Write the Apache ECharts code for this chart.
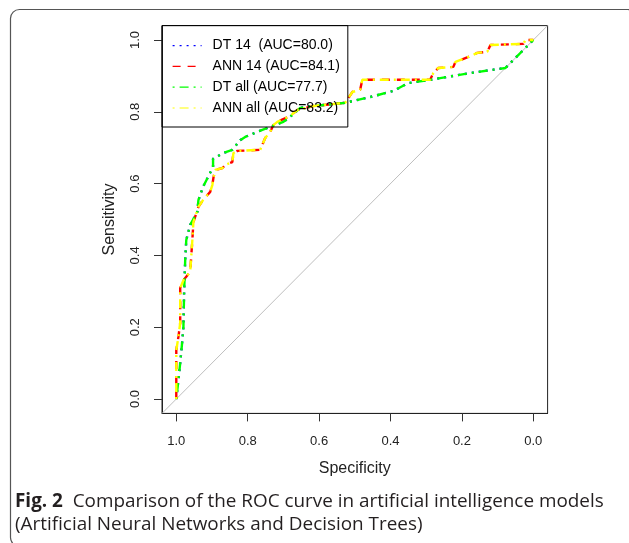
<!DOCTYPE html>
<html>
<head>
<meta charset="utf-8">
<script src="https://cdn.jsdelivr.net/npm/echarts@6/dist/echarts.min.js"></script>
<style>
html,body{margin:0;padding:0;background:#fff;}
#chart{width:629px;height:543px;}
</style>
</head>
<body>
<div id="chart"></div>
<script>
// ---- Data ----
const seriesNames = ['DT 14  (AUC=80.0)', 'ANN 14 (AUC=84.1)', 'DT all (AUC=77.7)', 'ANN all (AUC=83.2)'];
const tickValues = [0, 0.2, 0.4, 0.6, 0.8, 1.0];

const dtSpec = [1.000, 0.994, 0.989, 0.983, 0.980, 0.978, 0.975, 0.972, 0.961, 0.941, 0.938, 0.925, 0.897, 0.897, 0.868, 0.843, 0.821, 0.807, 0.773, 0.737, 0.700, 0.681, 0.653, 0.616, 0.527, 0.457, 0.392, 0.350, 0.289, 0.176, 0.078, 0.000];
const dtSens = [0.000, 0.053, 0.100, 0.164, 0.201, 0.300, 0.387, 0.443, 0.485, 0.521, 0.554, 0.591, 0.646, 0.669, 0.685, 0.694, 0.721, 0.730, 0.744, 0.758, 0.772, 0.786, 0.811, 0.816, 0.825, 0.841, 0.858, 0.880, 0.889, 0.908, 0.922, 1.000];

const dtAllSpec = [1.000, 0.994, 0.989, 0.983, 0.980, 0.978, 0.975, 0.972, 0.961, 0.941, 0.938, 0.925, 0.897, 0.897, 0.868, 0.843, 0.821, 0.807, 0.773, 0.737, 0.700, 0.681, 0.653, 0.616, 0.527, 0.457, 0.392, 0.350, 0.289, 0.176, 0.078, 0.000];
const dtAllSens = [0.000, 0.053, 0.100, 0.164, 0.201, 0.300, 0.387, 0.443, 0.485, 0.521, 0.554, 0.591, 0.646, 0.669, 0.685, 0.694, 0.721, 0.730, 0.744, 0.758, 0.772, 0.786, 0.811, 0.816, 0.825, 0.841, 0.858, 0.880, 0.889, 0.908, 0.922, 1.000];

const annSpec = [1.000, 1.000, 0.994, 0.989, 0.989, 0.980, 0.961, 0.955, 0.952, 0.938, 0.925, 0.905, 0.899, 0.896, 0.891, 0.871, 0.863, 0.843, 0.840, 0.829, 0.765, 0.759, 0.751, 0.737, 0.728, 0.717, 0.681, 0.661, 0.616, 0.527, 0.518, 0.507, 0.485, 0.479, 0.289, 0.280, 0.266, 0.224, 0.218, 0.176, 0.157, 0.129, 0.120, 0.028, 0.022, 0.000];
const annSens = [0.000, 0.136, 0.173, 0.212, 0.309, 0.331, 0.354, 0.443, 0.493, 0.535, 0.554, 0.577, 0.596, 0.616, 0.638, 0.643, 0.652, 0.660, 0.685, 0.691, 0.694, 0.708, 0.727, 0.744, 0.763, 0.772, 0.788, 0.805, 0.816, 0.825, 0.838, 0.855, 0.861, 0.889, 0.889, 0.908, 0.922, 0.925, 0.939, 0.955, 0.964, 0.967, 0.986, 0.989, 1.000, 1.000];

const annAllSpec = [1.000, 1.000, 0.994, 0.989, 0.989, 0.980, 0.961, 0.955, 0.952, 0.938, 0.925, 0.905, 0.899, 0.896, 0.891, 0.871, 0.863, 0.843, 0.840, 0.829, 0.765, 0.759, 0.751, 0.737, 0.728, 0.717, 0.681, 0.661, 0.616, 0.527, 0.518, 0.507, 0.485, 0.479, 0.289, 0.280, 0.266, 0.224, 0.218, 0.176, 0.157, 0.129, 0.120, 0.028, 0.022, 0.000];
const annAllSens = [0.000, 0.136, 0.173, 0.212, 0.309, 0.331, 0.354, 0.443, 0.493, 0.535, 0.554, 0.577, 0.596, 0.616, 0.638, 0.643, 0.652, 0.660, 0.685, 0.691, 0.694, 0.708, 0.727, 0.744, 0.763, 0.772, 0.788, 0.805, 0.816, 0.825, 0.838, 0.855, 0.861, 0.889, 0.889, 0.908, 0.922, 0.925, 0.939, 0.955, 0.964, 0.967, 0.986, 0.989, 1.000, 1.000];

// chance (reference) diagonal across the full plotting region
const refSpec = [1.04, -0.04];
const refSens = [-0.04, 1.04];

// ---- Build chart ----
function pairs(xs, ys) { return xs.map((x, i) => [x, ys[i]]); }

const chart = echarts.init(document.getElementById('chart'), null, {renderer: 'canvas'});
const axisFont = 'Liberation Sans, Arial, sans-serif';

function rocSeries(name, xs, ys, color, dash) {
  return {
    name: name, type: 'line', data: pairs(xs, ys),
    symbol: 'none', showSymbol: false, smooth: false, silent: true,
    color: color,
    lineStyle: {color: color, width: 2.4, type: dash},
    z: 3
  };
}

const option = {
  animation: false,
  backgroundColor: '#fff',
  title: {
    left: 15, top: 490, padding: 0,
    text: '{b|Fig. 2}{r|  Comparison of the ROC curve in artificial intelligence models}\n{r|(Artificial Neural Networks and Decision Trees)}',
    textStyle: {
      rich: {
        b: {fontFamily: 'Open Sans', fontWeight: 'bold', fontSize: 18.9, color: '#231f20', lineHeight: 23},
        r: {fontFamily: 'Open Sans', fontWeight: 'normal', fontSize: 18.9, color: '#231f20', lineHeight: 23}
      }
    }
  },
  grid: {
    left: 162, right: 81.4, top: 25.6, bottom: 129.6,
    show: true, borderColor: '#222', borderWidth: 1, backgroundColor: 'transparent'
  },
  legend: {
    left: 162, top: 25.6, orient: 'vertical',
    padding: [13, 8, 12, 10],
    itemWidth: 29, itemHeight: 14, itemGap: 6.8,
    borderColor: '#000', borderWidth: 1,
    selectedMode: false,
    textStyle: {fontFamily: axisFont, fontSize: 14, color: '#000', padding: [0, 0, 0, 6]},
    itemStyle: {opacity: 0},
    lineStyle: {width: 1.2},
    data: seriesNames
  },
  xAxis: {
    type: 'value', inverse: true, min: -0.04, max: 1.04,
    name: 'Specificity', nameLocation: 'middle', nameGap: 47,
    nameTextStyle: {fontFamily: axisFont, fontSize: 16, color: '#222'},
    axisLine: {show: true, onZero: false, lineStyle: {color: '#222', width: 1}},
    axisTick: {show: true, length: 8, inside: false, customValues: tickValues, lineStyle: {color: '#333'}},
    axisLabel: {show: true, customValues: tickValues, margin: 22, fontFamily: axisFont, fontSize: 13, color: '#222',
      formatter: v => v.toFixed(1)},
    splitLine: {show: false}
  },
  yAxis: {
    type: 'value', min: -0.04, max: 1.04,
    name: 'Sensitivity', nameLocation: 'middle', nameGap: 44,
    nameTextStyle: {fontFamily: axisFont, fontSize: 16, color: '#222'},
    axisLine: {show: true, onZero: false, lineStyle: {color: '#222', width: 1}},
    axisTick: {show: true, length: 8, inside: false, customValues: tickValues, lineStyle: {color: '#333'}},
    axisLabel: {show: true, customValues: tickValues, margin: 20, rotate: 90, fontFamily: axisFont, fontSize: 13, color: '#222',
      formatter: v => v.toFixed(1)},
    splitLine: {show: false}
  },
  graphic: [
    {type: 'rect', z: -10, silent: true,
     shape: {x: 10.5, y: 9.5, width: 626, height: 537, r: 9},
     style: {fill: 'none', stroke: '#555', lineWidth: 1.2}}
  ],
  series: [
    {name: 'chance', type: 'line', data: pairs(refSpec, refSens), symbol: 'none', silent: true,
     lineStyle: {color: '#BEBEBE', width: 1}, z: 1},
    rocSeries(seriesNames[0], dtSpec, dtSens, '#0000FF', [2, 5]),
    rocSeries(seriesNames[1], annSpec, annSens, '#FF0000', [8, 7]),
    rocSeries(seriesNames[2], dtAllSpec, dtAllSens, '#00FF00', [2, 5, 9, 5]),
    rocSeries(seriesNames[3], annAllSpec, annAllSens, '#FFFF00', [2, 5, 9, 5])
  ]
};
chart.setOption(option);
</script>
</body>
</html>
